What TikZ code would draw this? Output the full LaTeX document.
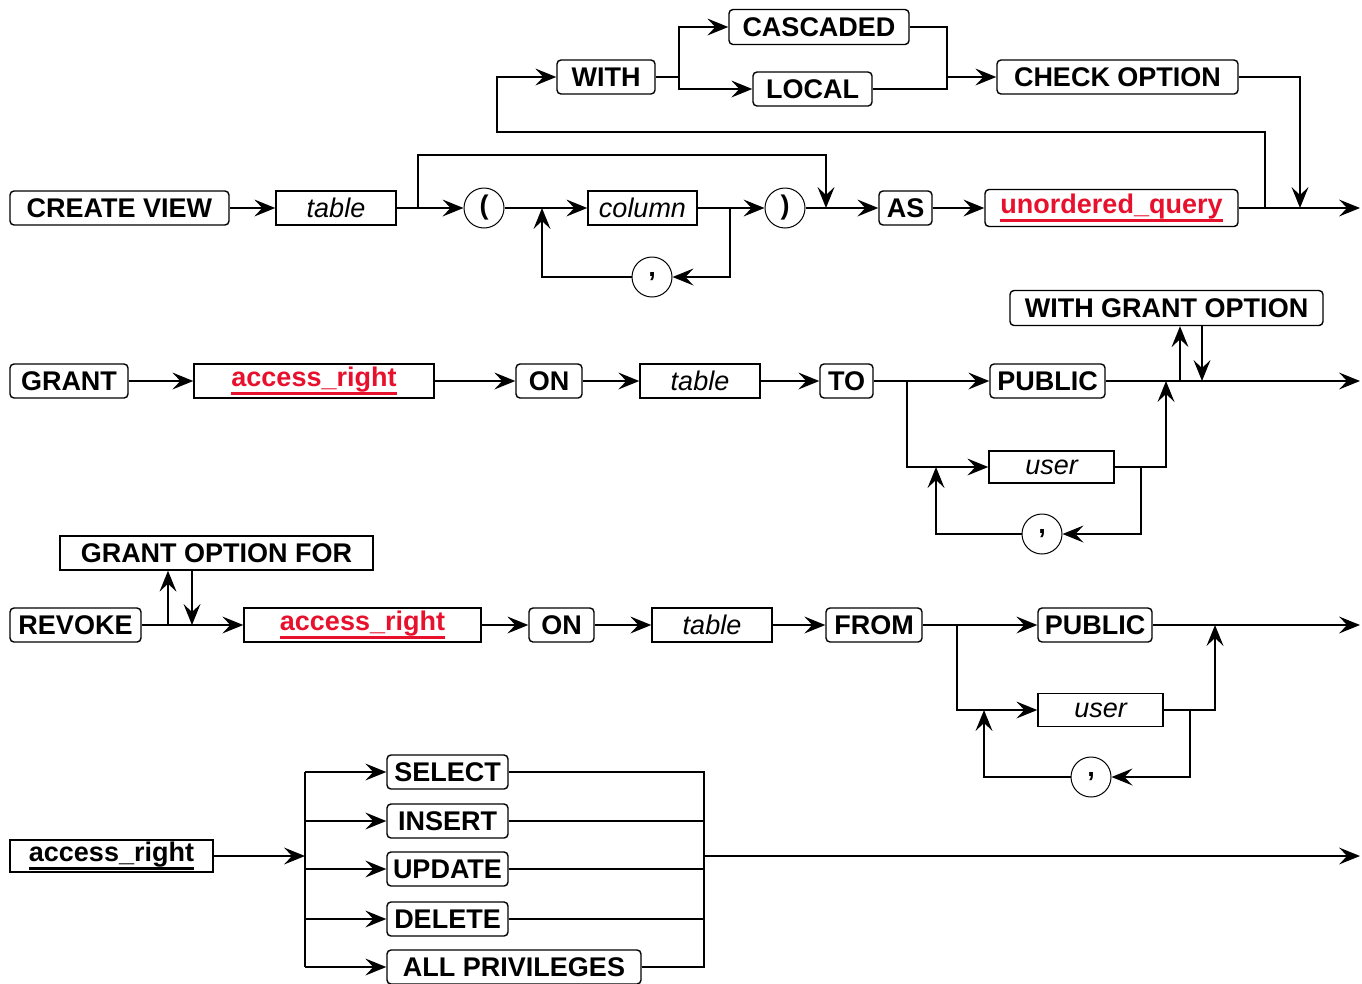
\documentclass[tikz,border=0pt]{standalone}
\usepackage{fontspec}
\setmainfont{Liberation Sans}
\usetikzlibrary{arrows.meta}
\definecolor{sqlred}{HTML}{E8112D}
\newcommand\kwf{\fontsize{27}{30}\selectfont\bfseries}
\newcommand\ntf{\fontsize{27}{30}\selectfont\itshape}
\newcommand\myul[2]{\setbox0\hbox{#2}\rlap{\color{#1}\rule[-9pt]{\wd0}{3pt}}\box0}
\tikzset{
  kw/.style={draw, rounded corners=4pt, line width=1.4pt, minimum height=34pt, inner sep=0pt, font=\kwf},
  nt/.style={draw, line width=1.4pt, minimum height=34pt, inner sep=0pt, font=\ntf},
  sq/.style={draw, line width=1.4pt, minimum height=34pt, inner sep=0pt, font=\kwf},
  rf/.style={sq, text=sqlred},
  circ/.style={draw, circle, minimum size=40pt, inner sep=0pt, line width=1pt, font=\kwf},
  ln/.style={line width=1.6pt},
  arr/.style={ln, -{Stealth[length=21pt,width=17pt,inset=8pt,line width=0pt]}},
}
\begin{document}
\begin{tikzpicture}[x=1pt,y=-1pt]
\useasboundingbox (0,0) rectangle (1362,983);
% ---------- CREATE VIEW ----------
\node[kw, minimum width=219pt] (cv) at (119.5,208) {CREATE VIEW};
\node[nt, minimum width=120pt] (t1) at (336,208) {table};
\node[circ] (lp) at (484,208) {(};
\node[nt, minimum width=109pt] (col) at (642.5,208) {column};
\node[circ] (cm1) at (652,277) {,};
\node[circ] (rp) at (785,208) {)};
\node[kw, minimum width=53pt] (as) at (905.5,208) {AS};
\node[kw, text=sqlred, minimum width=253pt, minimum height=37pt] (uq) at (1111.5,208) {\myul{sqlred}{unordered\_query}};
\node[kw, minimum width=98pt] (with) at (606,77) {WITH};
\node[kw, minimum width=180pt, minimum height=35pt] (casc) at (819,27) {CASCADED};
\node[kw, minimum width=119pt] (loc) at (812.5,89) {LOCAL};
\node[kw, minimum width=241pt] (chk) at (1117.5,77) {CHECK OPTION};
\coordinate (j1) at (418,208);
\coordinate (j2) at (542,208);
\coordinate (j3) at (730,208);
\coordinate (j4) at (826,208);
\coordinate (j5) at (1265,208);
\coordinate (j6) at (1300,208);
\coordinate (e1) at (1360,208);
\coordinate (k1) at (679,77);
\coordinate (k2) at (947,77);
\coordinate (b0) at (418,155);
\coordinate (l0) at (497,132);
\draw[arr] (cv) -- (t1);
\draw[ln] (t1) -- (j1);
\draw[arr] (j1) -- (lp);
\draw[ln] (lp) -- (j2);
\draw[arr] (j2) -- (col);
\draw[ln] (col) -- (j3);
\draw[arr] (j3) -- (rp);
\draw[arr] (j3) |- (cm1);
\draw[arr] (cm1) -| (j2);
\draw[arr] (j1) -- (b0) -| (j4);
\draw[ln] (rp) -- (j4);
\draw[arr] (j4) -- (as);
\draw[arr] (as) -- (uq);
\draw[ln] (uq) -- (j5) -- (j6);
\draw[arr] (j6) -- (e1);
\draw[arr] (j5) |- (l0) |- (with);
\draw[ln] (with) -- (k1);
\draw[arr] (k1) |- (casc);
\draw[arr] (k1) |- (loc);
\draw[ln] (casc) -| (k2);
\draw[ln] (loc) -| (k2);
\draw[arr] (k2) -- (chk);
\draw[arr] (chk) -| (j6);
% ---------- GRANT ----------
\node[kw, minimum width=118pt] (gr) at (69,381) {GRANT};
\node[rf, minimum width=240pt] (ar1) at (314,381) {\myul{sqlred}{access\_right}};
\node[kw, minimum width=66pt] (on1) at (549,381) {ON};
\node[nt, minimum width=120pt] (t2) at (700,381) {table};
\node[kw, minimum width=53pt] (to) at (846.5,381) {TO};
\node[kw, minimum width=115pt] (pub1) at (1047.5,381) {PUBLIC};
\node[nt, minimum width=125pt, minimum height=32pt] (us1) at (1051.5,467) {user};
\node[circ] (cm2) at (1042,534) {,};
\node[kw, minimum width=313pt, minimum height=35pt] (wgo) at (1166.5,308) {WITH GRANT OPTION};
\coordinate (g1) at (907,381);
\coordinate (g2) at (1166,381);
\coordinate (g3) at (1141,467);
\coordinate (g4) at (936,467);
\coordinate (g5) at (1180,381);
\coordinate (g6) at (1202,381);
\coordinate (e2) at (1360,381);
\draw[arr] (gr) -- (ar1);
\draw[arr] (ar1) -- (on1);
\draw[arr] (on1) -- (t2);
\draw[arr] (t2) -- (to);
\draw[ln] (to) -- (g1);
\draw[arr] (g1) -- (pub1);
\draw[arr] (g1) |- (us1);
\draw[ln] (us1) -- (g3);
\draw[arr] (g3) -| (g2);
\draw[arr] (g3) |- (cm2);
\draw[arr] (cm2) -| (g4);
\draw[ln] (pub1) -- (g2) -- (g5) -- (g6);
\draw[arr] (g6) -- (e2);
\draw[arr] (g5) -- (g5 |- wgo.south);
\draw[arr] (g6 |- wgo.south) -- (g6);
% ---------- REVOKE ----------
\node[kw, minimum width=131pt] (rv) at (75.5,625) {REVOKE};
\node[sq, minimum width=313pt] (gof) at (216.5,553) {GRANT OPTION FOR};
\node[rf, minimum width=237pt] (ar2) at (362.5,625) {\myul{sqlred}{access\_right}};
\node[kw, minimum width=65pt] (on2) at (561.5,625) {ON};
\node[nt, minimum width=120pt] (t3) at (712,625) {table};
\node[kw, minimum width=96pt] (fr) at (874,625) {FROM};
\node[kw, minimum width=114pt] (pub2) at (1095,625) {PUBLIC};
\node[nt, minimum width=125pt, minimum height=33pt] (us2) at (1100.5,710) {user};
\node[circ] (cm3) at (1091,777) {,};
\coordinate (r1) at (168,625);
\coordinate (r2) at (192,625);
\coordinate (h1) at (957,625);
\coordinate (h2) at (1215,625);
\coordinate (h3) at (1190,710);
\coordinate (h4) at (984,710);
\coordinate (e3) at (1360,625);
\draw[ln] (rv) -- (r1) -- (r2);
\draw[arr] (r2) -- (ar2);
\draw[arr] (r1) -- (r1 |- gof.south);
\draw[arr] (r2 |- gof.south) -- (r2);
\draw[arr] (ar2) -- (on2);
\draw[arr] (on2) -- (t3);
\draw[arr] (t3) -- (fr);
\draw[ln] (fr) -- (h1);
\draw[arr] (h1) -- (pub2);
\draw[arr] (h1) |- (us2);
\draw[ln] (us2) -- (h3);
\draw[arr] (h3) -| (h2);
\draw[arr] (h3) |- (cm3);
\draw[arr] (cm3) -| (h4);
\draw[ln] (pub2) -- (h2);
\draw[arr] (h2) -- (e3);
% ---------- access_right ----------
\node[sq, minimum width=203pt, minimum height=32pt] (ar3) at (111.5,856) {\myul{black}{access\_right}};
\node[kw, minimum width=121pt] (sel) at (447.5,772) {SELECT};
\node[kw, minimum width=121pt] (ins) at (447.5,821) {INSERT};
\node[kw, minimum width=121pt] (upd) at (447.5,869) {UPDATE};
\node[kw, minimum width=121pt] (del) at (447.5,919) {DELETE};
\node[kw, minimum width=254pt] (allp) at (514,967) {ALL PRIVILEGES};
\coordinate (a1) at (305,856);
\coordinate (b1) at (704,856);
\coordinate (e4) at (1360,856);
\draw[arr] (ar3) -- (a1);
\draw[ln] (a1 |- sel) -- (a1 |- allp);
\draw[arr] (a1 |- sel) -- (sel);
\draw[arr] (a1 |- ins) -- (ins);
\draw[arr] (a1 |- upd) -- (upd);
\draw[arr] (a1 |- del) -- (del);
\draw[arr] (a1 |- allp) -- (allp);
\draw[ln] (sel) -| (b1);
\draw[ln] (ins) -| (b1);
\draw[ln] (upd) -| (b1);
\draw[ln] (del) -| (b1);
\draw[ln] (allp) -| (b1);
\draw[arr] (b1) -- (e4);
\end{tikzpicture}
\end{document}
